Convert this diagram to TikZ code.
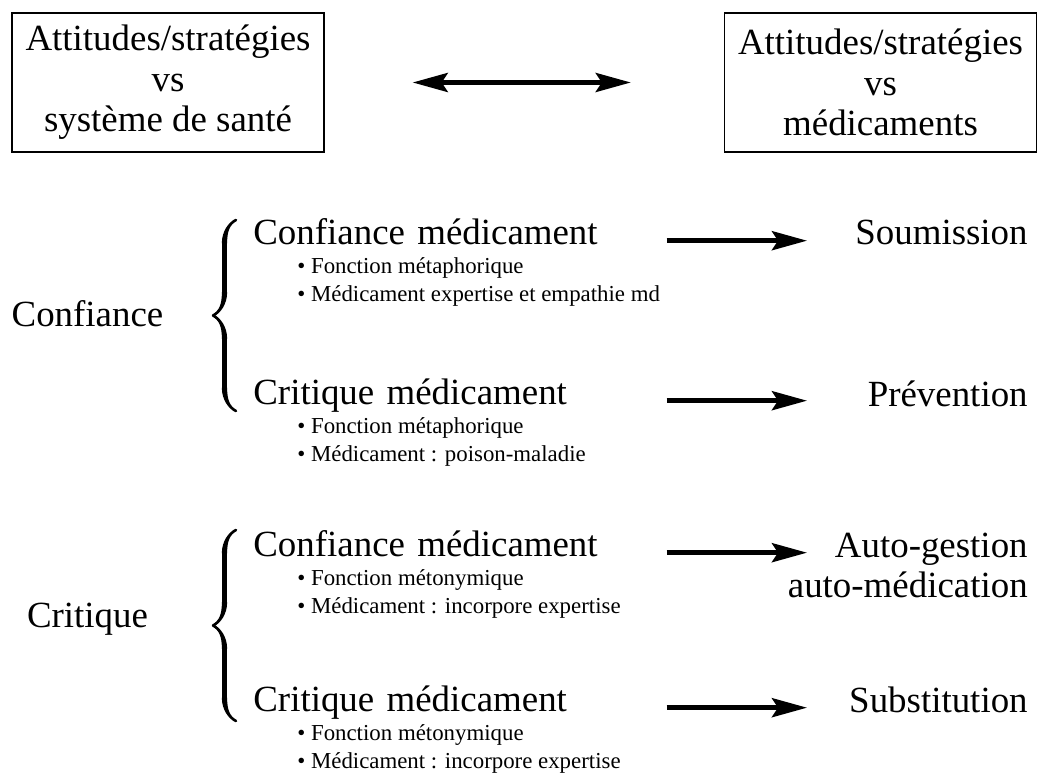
\documentclass[tikz,border=0pt]{standalone}
\usepackage{fontspec}
\setmainfont{Liberation Serif}
\usetikzlibrary{arrows.meta,decorations.pathreplacing,calligraphy}
\newcommand\grand{\fontsize{21}{23}\selectfont}
\newcommand\petit{\fontsize{13}{15}\selectfont}
\begin{document}
\begin{tikzpicture}
		[boite/.style={draw,thick,inner sep=0pt,minimum width=6.24cm,minimum height=2.78cm,align=center,font=\grand},
		medic/.style={anchor=base west,inner sep=0pt,text width=8.1cm,text height=0.7em,text depth=0.21em,font=\grand},
		puce/.style={anchor=base west,inner sep=0pt,font=\petit},
		resultat/.style={anchor=base east,inner sep=0pt,align=right,font=\grand},
		etiquette/.style={anchor=base,inner sep=0pt,font=\grand},
		accolade/.style={decorate,decoration={calligraphic brace,amplitude=0.46cm},line width=3pt},
		fleche/.style={line width=2.6pt,>={Stealth[length=0.7cm,width=0.38cm,inset=0.12cm]},->}]
		\useasboundingbox (0,0) rectangle (20.74,-15.48);
		% en-tete
		\node[boite,name=sante] at (3.36,-1.65) {Attitudes/stratégies\\vs\\système de santé};
		\node[boite,name=medoc] at (17.61,-1.65) {Attitudes/stratégies\\vs\\médicaments};
		\draw[fleche,<->,shorten <=1.76cm,shorten >=1.86cm] (sante)--(medoc);
		% groupes
		\node[etiquette,name=confiance] at (1.75,-6.54) {Confiance};
		\node[etiquette,name=critique] at (1.75,-12.56) {Critique};
		\draw[accolade] (4.72,-8.22)--(4.72,-4.40);
		\draw[accolade] (4.72,-14.42)--(4.72,-10.60);
		% medicaments
		\node[medic,name=m1] at (5.06,-4.90) {Confiance médicament};
		\node[puce,name=p1a] at (5.94,-5.48) {\textbullet\ Fonction métaphorique};
		\node[puce,name=p1b] at (5.94,-6.04) {\textbullet\ Médicament expertise et empathie md};
		\node[medic,name=m2] at (5.06,-8.10) {Critique médicament};
		\node[puce,name=p2a] at (5.94,-8.68) {\textbullet\ Fonction métaphorique};
		\node[puce,name=p2b] at (5.94,-9.24) {\textbullet\ Médicament : poison-maladie};
		\node[medic,name=m3] at (5.06,-11.14) {Confiance médicament};
		\node[puce,name=p3a] at (5.94,-11.72) {\textbullet\ Fonction métonymique};
		\node[puce,name=p3b] at (5.94,-12.28) {\textbullet\ Médicament : incorpore expertise};
		\node[medic,name=m4] at (5.06,-14.24) {Critique médicament};
		\node[puce,name=p4a] at (5.94,-14.82) {\textbullet\ Fonction métonymique};
		\node[puce,name=p4b] at (5.94,-15.38) {\textbullet\ Médicament : incorpore expertise};
		% resultats
		\node[resultat,name=r1] at (20.56,-4.90) {Soumission};
		\node[resultat,name=r2] at (20.56,-8.14) {Prévention};
		\node[resultat,name=r3] at (20.56,-11.96) {Auto-gestion\\auto-médication};
		\node[resultat,name=r4] at (20.56,-14.26) {Substitution};
		\coordinate (pointes) at (16.14,0);
		\draw[fleche,shorten <=0.16cm] (m1.east)--(m1.east -| pointes);
		\draw[fleche,shorten <=0.16cm] (m2.east)--(m2.east -| pointes);
		\draw[fleche,shorten <=0.16cm] (m3.east)--(m3.east -| pointes);
		\draw[fleche,shorten <=0.16cm] (m4.east)--(m4.east -| pointes);
	\end{tikzpicture}
\end{document}
